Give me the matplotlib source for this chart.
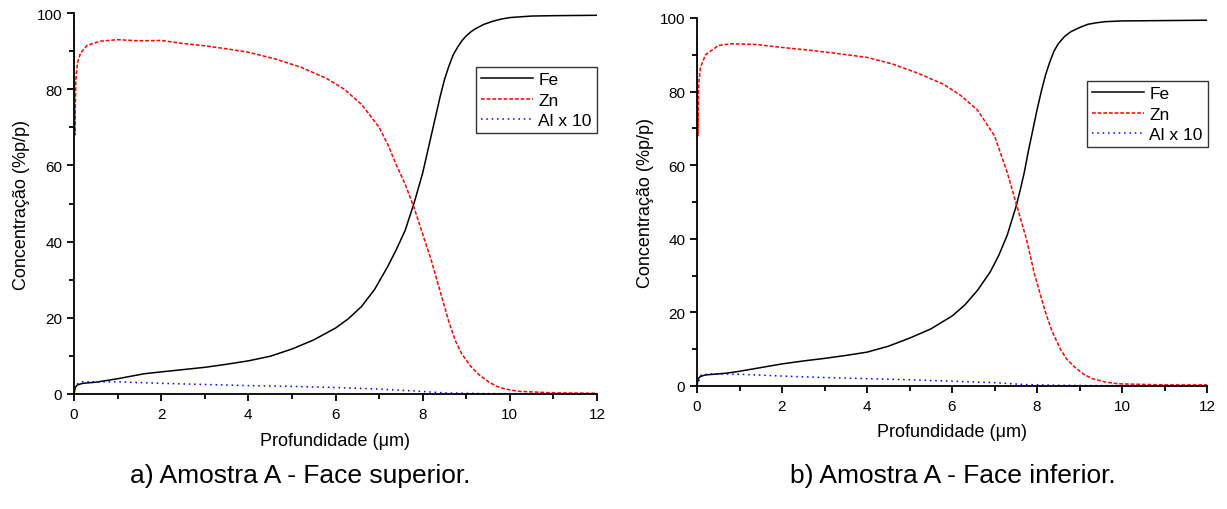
import matplotlib
matplotlib.use("Agg")
import matplotlib.pyplot as plt
from matplotlib.ticker import MultipleLocator

plt.rcParams['font.family'] = ['Liberation Sans', 'DejaVu Sans']

# depth profiles, face superior (a)
fe_a_x = [0, 0.03, 0.08, 0.2, 0.5, 1.0, 1.6, 2.0, 2.5, 3.0, 3.5, 4.0, 4.5, 5.0, 5.5, 6.0, 6.3, 6.6,
          6.9, 7.2, 7.4, 7.6, 7.7, 7.8, 7.9, 8.0, 8.1, 8.2, 8.3, 8.4, 8.5, 8.6, 8.7, 8.8, 8.9, 9.0,
          9.1, 9.2, 9.4, 9.6, 9.8, 10.0, 10.5, 11.0, 12.0]
fe_a_y = [0, 1.8, 2.4, 2.8, 3.1, 4.0, 5.3, 5.8, 6.4, 7.0, 7.8, 8.7, 9.9, 11.8, 14.2, 17.3, 19.8, 23.0,
          27.5, 33.5, 38.0, 43.0, 46.5, 50.0, 54.0, 58.0, 63.0, 68.0, 73.0, 78.0, 82.5, 86.0, 89.0, 91.0, 92.7, 94.0,
          95.0, 95.8, 97.0, 97.8, 98.4, 98.8, 99.2, 99.3, 99.4]
zn_a_x = [0, 0.01, 0.02, 0.04, 0.08, 0.15, 0.3, 0.6, 1.0, 1.5, 2.0, 2.5, 3.0, 3.5, 4.0, 4.6, 5.2, 5.8,
          6.2, 6.6, 7.0, 7.2, 7.4, 7.6, 7.8, 8.0, 8.2, 8.4, 8.6, 8.75, 8.9, 9.1, 9.3, 9.5, 9.7, 9.9,
          10.2, 11.0, 12.0]
zn_a_y = [98, 80, 68, 82, 87, 89.5, 91.5, 92.6, 93.0, 92.7, 92.8, 92.0, 91.4, 90.6, 89.7, 88.0, 85.8, 82.8,
          80.0, 76.0, 70.0, 65.5, 60.0, 55.0, 49.0, 42.0, 35.0, 27.0, 19.0, 14.0, 10.5, 7.3, 5.0, 3.3, 2.0, 1.3,
          0.7, 0.3, 0.2]
al_a_x = [0, 0.05, 0.2, 1.0, 2.0, 3.0, 4.0, 5.0, 6.0, 7.0, 7.8, 8.5, 9.5, 12.0]
al_a_y = [0, 2.5, 3.2, 3.2, 2.8, 2.5, 2.2, 2.0, 1.7, 1.3, 0.8, 0.3, 0.1, 0.05]

# depth profiles, face inferior (b)
fe_b_x = [0, 0.03, 0.08, 0.2, 0.7, 1.0, 1.5, 2.0, 2.5, 3.0, 3.5, 4.0, 4.5, 5.0, 5.5, 6.0, 6.3, 6.6,
          6.9, 7.1, 7.3, 7.5, 7.6, 7.7, 7.8, 7.9, 8.0, 8.1, 8.2, 8.3, 8.4, 8.5, 8.65, 8.8, 9.0, 9.2,
          9.4, 9.6, 10.0, 11.0, 12.0]
fe_b_y = [0, 2.0, 2.6, 3.0, 3.5, 4.0, 5.0, 6.0, 6.8, 7.5, 8.3, 9.2, 10.8, 13.0, 15.5, 19.0, 22.0, 26.0,
          31.0, 35.5, 41.0, 48.5, 53.0, 58.0, 64.0, 69.5, 75.0, 80.0, 84.5, 88.0, 91.0, 93.0, 95.0, 96.3, 97.4, 98.3,
          98.7, 99.0, 99.2, 99.3, 99.4]
zn_b_x = [0, 0.01, 0.02, 0.04, 0.08, 0.2, 0.5, 0.8, 1.4, 2.0, 2.6, 3.2, 4.0, 4.6, 5.2, 5.8, 6.2, 6.6,
          7.0, 7.3, 7.5, 7.75, 7.95, 8.2, 8.35, 8.55, 8.7, 8.9, 9.1, 9.3, 9.6, 9.9, 11.0, 12.0]
zn_b_y = [95, 78, 68, 82, 86.5, 90.0, 92.5, 93.0, 92.8, 92.0, 91.3, 90.5, 89.3, 87.5, 85.0, 82.0, 79.0, 75.0,
          68.0, 58.0, 50.0, 40.0, 30.0, 20.0, 15.0, 10.0, 7.3, 5.0, 3.2, 2.0, 1.1, 0.6, 0.3, 0.3]
al_b_x = [0, 0.1, 0.3, 1.0, 2.0, 3.0, 4.0, 5.0, 6.0, 7.0, 7.7, 8.5, 9.5, 12.0]
al_b_y = [0, 3.0, 3.3, 3.2, 2.7, 2.3, 2.0, 1.7, 1.3, 0.9, 0.4, 0.2, 0.1, 0.05]

W, H = 1227, 510
fig = plt.figure(figsize=(W / 100, H / 100), dpi=100)


def px_rect(x0, x1, y_top, y_bot):
    return [x0 / W, (H - y_bot) / H, (x1 - x0) / W, (y_bot - y_top) / H]


def draw_panel(ax, fe, zn, al, leg_anchor):
    ax.plot(fe[0], fe[1], color='black', lw=1.1, label='Fe')
    ax.plot(zn[0], zn[1], color='red', lw=1.1, dashes=(2.5, 1.2), label='Zn')
    ax.plot(al[0], al[1], color='blue', lw=1.1, dashes=(1, 2.5), label='Al x 10')
    ax.set_xlim(0, 12)
    ax.set_ylim(0, 100)
    ax.xaxis.set_major_locator(MultipleLocator(2))
    ax.xaxis.set_minor_locator(MultipleLocator(1))
    ax.yaxis.set_major_locator(MultipleLocator(20))
    ax.yaxis.set_minor_locator(MultipleLocator(10))
    for side in ('top', 'right'):
        ax.spines[side].set_visible(False)
    for side in ('left', 'bottom'):
        ax.spines[side].set_linewidth(1.3)
    ax.tick_params(which='major', direction='out', length=5, width=1.3, labelsize=11)
    ax.tick_params(axis='x', which='major', pad=4.5)
    ax.tick_params(axis='y', which='major', pad=3.5)
    ax.tick_params(which='minor', direction='out', length=3.3, width=1.3)
    ax.set_xlabel('Profundidade (μm)', fontsize=13)
    ax.set_ylabel('Concentração (%p/p)', fontsize=13)
    ax.legend(loc='upper right', bbox_to_anchor=leg_anchor, bbox_transform=fig.transFigure,
              frameon=True, fancybox=False, edgecolor='black', fontsize=12.5,
              handlelength=3.0, handletextpad=0.3, labelspacing=0.3, borderpad=0.3,
              borderaxespad=0)


ax1 = fig.add_axes(px_rect(74, 597, 14, 395))
draw_panel(ax1, (fe_a_x, fe_a_y), (zn_a_x, zn_a_y), (al_a_x, al_a_y), (597 / W, 1 - 68 / H))
ax1.xaxis.set_label_coords(0.5, -0.1)
ax1.yaxis.set_label_coords(-0.085, 0.5)

ax2 = fig.add_axes(px_rect(697, 1207, 19, 387))
draw_panel(ax2, (fe_b_x, fe_b_y), (zn_b_x, zn_b_y), (al_b_x, al_b_y), (1208 / W, 1 - 82 / H))
ax2.xaxis.set_label_coords(0.5, -0.1)
ax2.yaxis.set_label_coords(-0.085, 0.5)

fig.text(300 / W, 1 - 476 / H, 'a) Amostra A - Face superior.', ha='center', va='center', fontsize=19)
fig.text(953 / W, 1 - 476 / H, 'b) Amostra A - Face inferior.', ha='center', va='center', fontsize=19)

fig.savefig('out.png', dpi=100)
